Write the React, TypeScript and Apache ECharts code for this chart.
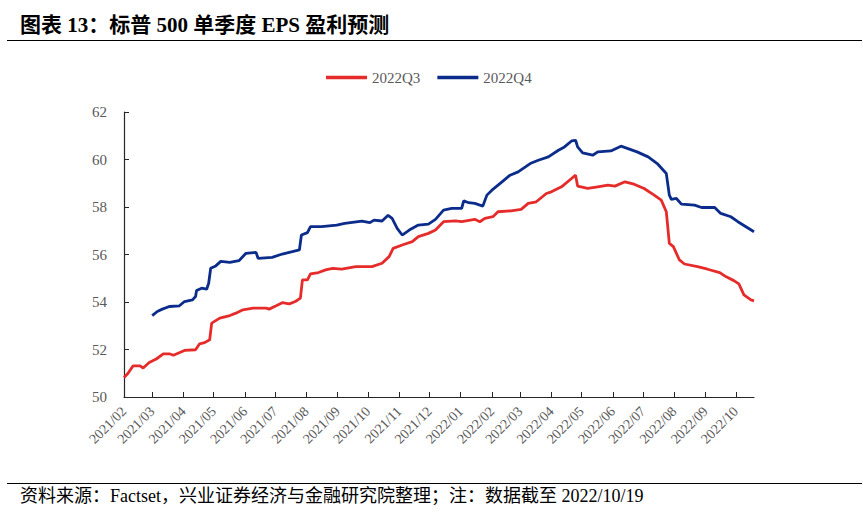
import React, { useEffect, useRef } from "react";
import * as echarts from "echarts";

const TITLE = "图表 13：标普 500 单季度 EPS 盈利预测";
const FOOTER = "资料来源：Factset，兴业证券经济与金融研究院整理；注：数据截至 2022/10/19";
const seriesNames = ["2022Q3", "2022Q4"];

const q3Dates = [
  "2021-02-01", "2021-02-05", "2021-02-10", "2021-02-17", "2021-02-20", "2021-02-26",
  "2021-03-05", "2021-03-12", "2021-03-18", "2021-03-22", "2021-04-02", "2021-04-13",
  "2021-04-17", "2021-04-22", "2021-04-27", "2021-04-29", "2021-05-07", "2021-05-17",
  "2021-05-23", "2021-05-30", "2021-06-09", "2021-06-22", "2021-06-25", "2021-07-02",
  "2021-07-08", "2021-07-15", "2021-07-21", "2021-07-26", "2021-07-28", "2021-08-02",
  "2021-08-05", "2021-08-13", "2021-08-20", "2021-08-27", "2021-09-05", "2021-09-19",
  "2021-10-05", "2021-10-15", "2021-10-22", "2021-10-26", "2021-11-04", "2021-11-14",
  "2021-11-20", "2021-11-30", "2021-12-07", "2021-12-15", "2021-12-27", "2022-01-02",
  "2022-01-15", "2022-01-20", "2022-01-25", "2022-02-02", "2022-02-07", "2022-02-20",
  "2022-03-02", "2022-03-09", "2022-03-17", "2022-03-27", "2022-04-01", "2022-04-11",
  "2022-04-21", "2022-04-25", "2022-04-27", "2022-05-07", "2022-05-17", "2022-05-27",
  "2022-06-03", "2022-06-13", "2022-06-22", "2022-07-02", "2022-07-12", "2022-07-19",
  "2022-07-24", "2022-07-27", "2022-07-31", "2022-08-06", "2022-08-11", "2022-08-24",
  "2022-09-03", "2022-09-15", "2022-09-21", "2022-09-29", "2022-10-04", "2022-10-09",
  "2022-10-16", "2022-10-19",
];
const q3Values = [
  50.82, 51.0, 51.31, 51.31, 51.22, 51.45,
  51.6, 51.82, 51.82, 51.76, 51.96, 51.99,
  52.24, 52.29, 52.41, 53.11, 53.32, 53.43,
  53.53, 53.67, 53.74, 53.74, 53.7, 53.84,
  53.97, 53.92, 54.02, 54.16, 54.93, 54.93,
  55.18, 55.24, 55.35, 55.42, 55.38, 55.49,
  55.49, 55.63, 55.91, 56.26, 56.4, 56.54,
  56.75, 56.89, 57.03, 57.38, 57.42, 57.38,
  57.48, 57.38, 57.52, 57.59, 57.8, 57.84,
  57.9, 58.15, 58.22, 58.57, 58.64, 58.85,
  59.2, 59.34, 58.88, 58.78, 58.85, 58.92,
  58.88, 59.06, 58.96, 58.78, 58.5, 58.29,
  57.8, 56.47, 56.33, 55.77, 55.6, 55.49,
  55.38, 55.24, 55.07, 54.9, 54.76, 54.3,
  54.09, 54.05,
];

const q4Dates = [
  "2021-03-01", "2021-03-06", "2021-03-11", "2021-03-18", "2021-03-28", "2021-04-02",
  "2021-04-10", "2021-04-13", "2021-04-14", "2021-04-19", "2021-04-24", "2021-04-26",
  "2021-04-28", "2021-05-03", "2021-05-08", "2021-05-17", "2021-05-26", "2021-06-02",
  "2021-06-12", "2021-06-14", "2021-06-28", "2021-07-08", "2021-07-18", "2021-07-25",
  "2021-07-27", "2021-08-02", "2021-08-05", "2021-08-16", "2021-08-31", "2021-09-08",
  "2021-09-25", "2021-10-03", "2021-10-07", "2021-10-15", "2021-10-21", "2021-10-25",
  "2021-10-30", "2021-11-04", "2021-11-11", "2021-11-20", "2021-11-30", "2021-12-07",
  "2021-12-15", "2021-12-23", "2022-01-02", "2022-01-04", "2022-01-09", "2022-01-15",
  "2022-01-23", "2022-01-27", "2022-02-01", "2022-02-11", "2022-02-19", "2022-02-27",
  "2022-03-11", "2022-03-19", "2022-03-29", "2022-04-08", "2022-04-14", "2022-04-21",
  "2022-04-25", "2022-04-27", "2022-05-02", "2022-05-12", "2022-05-17", "2022-05-30",
  "2022-06-09", "2022-06-16", "2022-06-25", "2022-07-06", "2022-07-15", "2022-07-24",
  "2022-07-27", "2022-07-29", "2022-08-03", "2022-08-08", "2022-08-21", "2022-08-28",
  "2022-09-10", "2022-09-16", "2022-09-26", "2022-10-03", "2022-10-11", "2022-10-19",
];
const q4Values = [
  53.43, 53.6, 53.7, 53.81, 53.84, 54.02,
  54.09, 54.23, 54.48, 54.58, 54.54, 54.79,
  55.42, 55.52, 55.71, 55.67, 55.74, 56.05,
  56.09, 55.84, 55.88, 56.02, 56.12, 56.19,
  56.82, 56.92, 57.17, 57.17, 57.24, 57.31,
  57.41, 57.34, 57.45, 57.41, 57.65, 57.52,
  57.1, 56.82, 57.03, 57.24, 57.28, 57.48,
  57.87, 57.94, 57.94, 58.26, 58.18, 58.15,
  58.04, 58.5, 58.71, 59.06, 59.34, 59.48,
  59.83, 59.97, 60.11, 60.39, 60.53, 60.78,
  60.81, 60.53, 60.28, 60.18, 60.32, 60.36,
  60.56, 60.46, 60.32, 60.11, 59.83, 59.41,
  58.5, 58.32, 58.36, 58.12, 58.08, 57.98,
  57.98, 57.73, 57.59, 57.38, 57.17, 56.96,
];

const axisStart = "2021-02-01";
const axisEnd = "2022-10-19";
const tickMonths = [
  "2021-03", "2021-04", "2021-05", "2021-06", "2021-07", "2021-08", "2021-09", "2021-10",
  "2021-11", "2021-12", "2022-01", "2022-02", "2022-03", "2022-04", "2022-05", "2022-06",
  "2022-07", "2022-08", "2022-09", "2022-10",
];
const labelMonths = ["2021-02", ...tickMonths];

const yMin = 50;
const yMax = 62;
const yStep = 2;

function monthTs(m: string): number {
  const [y, mo] = m.split("-").map(Number);
  return new Date(y, mo - 1, 1).getTime();
}
function dayTs(d: string): number {
  const [y, mo, da] = d.split("-").map(Number);
  return new Date(y, mo - 1, da).getTime();
}

const SERIF = '"Liberation Serif", "Times New Roman", "Noto Sans CJK SC", serif';
const CJK = '"Liberation Serif", "Noto Sans CJK SC", serif';

export default function App() {
  const ref = useRef<HTMLDivElement>(null);
  useEffect(() => {
    if (!ref.current) return;
    const chart = echarts.init(ref.current, null, { renderer: "svg" });
    const q3 = q3Dates.map((d, i) => [dayTs(d), q3Values[i]]);
    const q4 = q4Dates.map((d, i) => [dayTs(d), q4Values[i]]);
    chart.setOption({
      animation: false,
      backgroundColor: "#ffffff",
      graphic: [
        {
          type: "text",
          left: 20,
          top: 14,
          style: {
            text: TITLE,
            font: `bold 21px ${CJK}`,
            fill: "#000000",
          },
        },
        {
          type: "line",
          shape: { x1: 7, y1: 40.5, x2: 862, y2: 40.5 },
          style: { stroke: "#000000", lineWidth: 1.2 },
        },
        {
          type: "line",
          shape: { x1: 7, y1: 483.5, x2: 862, y2: 483.5 },
          style: { stroke: "#000000", lineWidth: 1.2 },
        },
        {
          type: "text",
          left: 20,
          top: 487,
          style: {
            text: FOOTER,
            font: `18px ${CJK}`,
            fill: "#000000",
          },
        },
      ],
      legend: {
        show: true,
        left: 321,
        top: 65,
        orient: "horizontal",
        itemWidth: 41,
        itemHeight: 3.5,
        itemGap: 17,
        icon: "rect",
        textStyle: { fontFamily: SERIF, fontSize: 15, color: "#595959" },
        data: seriesNames,
      },
      grid: { left: 124, right: 109, top: 112, bottom: 122, containLabel: false },
      xAxis: {
        type: "value",
        min: dayTs(axisStart),
        max: dayTs(axisEnd),
        splitLine: { show: false },
        axisLine: { show: true, lineStyle: { color: "#262626", width: 1.2 } },
        axisTick: {
          show: true,
          inside: true,
          length: 5,
          lineStyle: { color: "#262626", width: 1 },
          customValues: tickMonths.map(monthTs),
        },
        axisLabel: {
          show: true,
          rotate: 45,
          margin: 12,
          fontFamily: SERIF,
          fontSize: 14,
          color: "#595959",
          customValues: labelMonths.map(monthTs),
          formatter: (v: number) => {
            const d = new Date(v);
            const m = d.getMonth() + 1;
            return `${d.getFullYear()}/${m < 10 ? "0" + m : m}`;
          },
          hideOverlap: false,
        },
      },
      yAxis: {
        type: "value",
        min: yMin,
        max: yMax,
        interval: yStep,
        splitLine: { show: false },
        axisLine: { show: true, lineStyle: { color: "#262626", width: 1.2 } },
        axisTick: { show: true, inside: true, length: 5, lineStyle: { color: "#262626" } },
        axisLabel: { margin: 17, fontFamily: SERIF, fontSize: 15, color: "#595959" },
      },
      series: [
        {
          name: seriesNames[0],
          type: "line",
          data: q3,
          showSymbol: false,
          symbol: "none",
          lineStyle: { color: "#E62B2B", width: 2.8 },
          itemStyle: { color: "#E62B2B" },
        },
        {
          name: seriesNames[1],
          type: "line",
          data: q4,
          showSymbol: false,
          symbol: "none",
          lineStyle: { color: "#0B2C8A", width: 2.8 },
          itemStyle: { color: "#0B2C8A" },
        },
      ],
    });
    return () => chart.dispose();
  }, []);
  return (
    <div
      ref={ref}
      style={{ position: "fixed", left: 0, top: 0, width: 863, height: 519, background: "#fff" }}
    />
  );
}
